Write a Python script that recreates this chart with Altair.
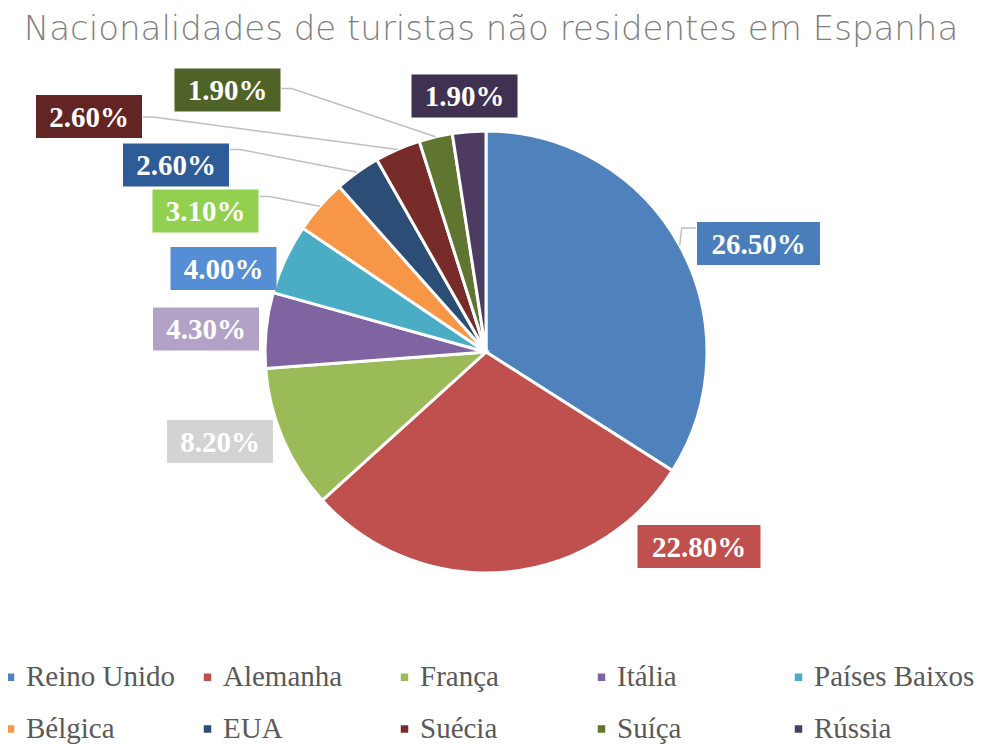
import altair as alt
import pandas as pd
import numpy as np

# ---------------- data ----------------
NATIONALITIES = ["Reino Unido", "Alemanha", "França", "Itália", "Países Baixos",
                 "Bélgica", "EUA", "Suécia", "Suíça", "Rússia"]
SHARES = [26.5, 22.8, 8.2, 4.3, 4.0, 3.1, 2.6, 2.6, 1.9, 1.9]

# ---------------- styles ----------------
SLICE_COLORS = ["#4F81BD", "#C0504D", "#9BBB59", "#8064A2", "#4BACC6",
                "#F79646", "#2C4D75", "#772C2A", "#5F7530", "#4D3B62"]
LABEL_BOX_COLORS = ["#4A7EBB", "#C0504D", "#D3D3D3", "#B3A2C7", "#558ED5",
                    "#92D050", "#2E5C98", "#632523", "#4F6228", "#3F3151"]

W, H, PAD_TOP = 966, 676, 60
CX, CY, R = 478, 284, 221          # pie centre and radius (plot pixels)
BOX_H = 43
# label-box centre offsets from pie centre (annotation layout)
LABEL_OFFSETS = [(272.5, -108.5), (213, 194.5), (-266, 89.5), (-280, -23),
                 (-262.5, -83.5), (-280.5, -141), (-310, -187), (-397, -235.5),
                 (-258.5, -262), (-21.5, -256)]
# leader lines: index -> (box side where the line starts, offset from box top)
LEADERS = {0: ("left", 6), 5: ("right", 7), 6: ("right", 6),
           7: ("right", 22), 8: ("right", 20)}

# ---------------- derived tables ----------------
df = pd.DataFrame({"nationality": NATIONALITIES, "share": SHARES,
                   "idx": range(len(SHARES))})
total = df["share"].sum()
cum = df["share"].cumsum()
mid = (cum - df["share"] / 2) / total * 2 * np.pi
df["label"] = [f"{v:.2f}%" for v in SHARES]
df["box_color"] = LABEL_BOX_COLORS
df["cx"] = [CX + o[0] for o in LABEL_OFFSETS]
df["cy"] = [CY + o[1] for o in LABEL_OFFSETS]
df["bw"] = [17 * len(s) + 21 for s in df["label"]]
df["x1"] = df["cx"] - df["bw"] / 2
df["x2"] = df["cx"] + df["bw"] / 2
df["y1"] = df["cy"] - BOX_H / 2
df["y2"] = df["cy"] + BOX_H / 2
df["ex"] = CX + R * np.sin(mid)
df["ey"] = CY - R * np.cos(mid)

rows = []
for i, (side, dy) in LEADERS.items():
    r = df.iloc[i]
    sy = r["y1"] + dy
    if side == "right":
        sx = r["x2"] + 1
        kx = sx + 10
    else:
        sx = r["x1"] - 1
        kx = r["ex"] + 2
    pts = [(sx, sy), (kx, sy), (r["ex"], r["ey"])]
    for k, (px, py) in enumerate(pts):
        rows.append({"id": i, "seq": k, "px": px, "py": py})
leaders = pd.DataFrame(rows)

xs = alt.Scale(domain=[0, W], range=[0, W])
ys = alt.Scale(domain=[0, H], range=[0, H])

pie = alt.Chart(df).mark_arc(radius=R, stroke="white", strokeWidth=3).encode(
    theta=alt.Theta("share:Q", stack=True),
    color=alt.Color("nationality:N",
                    scale=alt.Scale(domain=NATIONALITIES, range=SLICE_COLORS),
                    legend=alt.Legend(title=None, orient="none", legendX=-12, legendY=594.5,
                                      direction="horizontal", columns=5, gridAlign="all",
                                      symbolType="square", symbolSize=56,
                                      symbolStrokeWidth=0, labelFont="Liberation Serif",
                                      labelFontSize=29, labelColor="#595959",
                                      labelOffset=1, columnPadding=6, rowPadding=22,
                                      labelLimit=400, padding=0)),
    order=alt.Order("idx:Q"),
    x=alt.value(CX), y=alt.value(CY),
)

lines = alt.Chart(leaders).mark_line(color="#BFBFBF", strokeWidth=1.5).encode(
    x=alt.X("px:Q", scale=xs, axis=None),
    y=alt.Y("py:Q", scale=ys, axis=None),
    detail="id:N",
    order="seq:Q",
)

boxes = alt.Chart(df).mark_rect().encode(
    x=alt.X("x1:Q", scale=xs, axis=None), x2="x2:Q",
    y=alt.Y("y1:Q", scale=ys, axis=None), y2="y2:Q",
    fill=alt.Fill("box_color:N", scale=None),
)

texts = alt.Chart(df).mark_text(font="Liberation Serif", fontWeight="bold",
                                fontSize=29, color="white", align="center",
                                baseline="middle", dy=1).encode(
    x=alt.X("cx:Q", scale=xs, axis=None),
    y=alt.Y("cy:Q", scale=ys, axis=None),
    text="label:N",
)

chart = alt.layer(pie, lines, boxes, texts).properties(
    width=W, height=H,
    autosize=alt.AutoSizeParams(type="none"),
    padding={"top": PAD_TOP, "left": 0, "right": 0, "bottom": 0},
    title=alt.TitleParams("Nacionalidades de turistas não residentes em Espanha",
                          font="DejaVu Sans", fontWeight=200, fontSize=34, color="#7F7F7F",
                          anchor="middle", frame="group", baseline="alphabetic",
                          offset=0, dy=6),
).configure_view(stroke=None)

chart.save("out.html", embed_options={"renderer": "svg", "actions": False})
